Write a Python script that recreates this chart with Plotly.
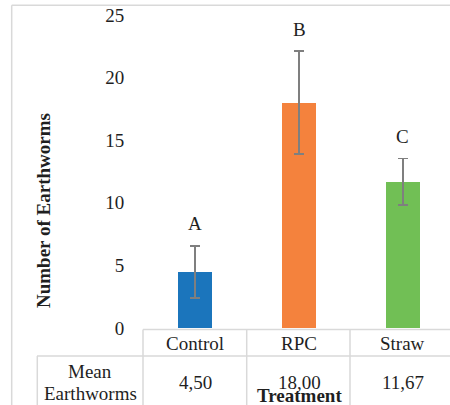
import plotly.graph_objects as go

# Earthworm counts per treatment
treatments = ["Control", "RPC", "Straw"]
mean_worms = [4.50, 18.00, 11.67]
error_worms = [2.08, 4.12, 1.87]
group_letters = ["A", "B", "C"]
bar_colors = ["#1B75BC", "#F4823D", "#71BF55"]
y_ticks = [0, 5, 10, 15, 20, 25]

FONT = "Liberation Serif, Times New Roman, serif"
TXT = "#1f1f1f"
LINE = "#d9d9d9"

W, H = 450, 405
ML, MR, MT, MB = 143, 0, 15, 77
PW, PH = W - ML - MR, H - MT - MB


def px_x(p):
    return (p - ML) / PW


def px_y(p):
    return (H - MB - p) / PH


xs = list(range(len(treatments)))

fig = go.Figure()
fig.add_trace(go.Bar(
    x=xs,
    y=mean_worms,
    width=0.32,
    marker=dict(color=bar_colors, line=dict(width=0)),
    error_y=dict(type="data", array=error_worms, visible=True,
                 color="#7f7f7f", thickness=1.8, width=5),
    showlegend=False,
    hoverinfo="skip",
))

annotations = []
# significance letters above the error bars
for i, (m, e, lab) in enumerate(zip(mean_worms, error_worms, group_letters)):
    annotations.append(dict(x=i, y=m + e, xref="x", yref="y", text=lab,
                            showarrow=False, xanchor="center",
                            yanchor="middle", yshift=22,
                            font=dict(family=FONT, size=19, color=TXT)))

# data table under the plot: category row and value row
for i, (t, m) in enumerate(zip(treatments, mean_worms)):
    annotations.append(dict(x=i, y=px_y(343), xref="x", yref="paper", text=t,
                            showarrow=False, xanchor="center",
                            yanchor="middle",
                            font=dict(family=FONT, size=19, color=TXT)))
    annotations.append(dict(x=i, y=px_y(382), xref="x", yref="paper",
                            text=f"{m:.2f}".replace(".", ","),
                            showarrow=False, xanchor="center",
                            yanchor="middle",
                            font=dict(family=FONT, size=19, color=TXT)))

annotations.append(dict(x=px_x(90), y=px_y(371), xref="paper", yref="paper",
                        text="Mean", showarrow=False, xanchor="center",
                        yanchor="middle",
                        font=dict(family=FONT, size=19, color=TXT)))
annotations.append(dict(x=px_x(90), y=px_y(393), xref="paper", yref="paper",
                        text="Earthworms", showarrow=False, xanchor="center",
                        yanchor="middle",
                        font=dict(family=FONT, size=19, color=TXT)))

# axis titles
annotations.append(dict(x=1, y=px_y(395), xref="x", yref="paper",
                        text="<b>Treatment</b>", showarrow=False,
                        xanchor="center", yanchor="middle",
                        font=dict(family=FONT, size=19, color=TXT)))
annotations.append(dict(x=px_x(44), y=px_y(211), xref="paper", yref="paper",
                        text="<b>Number of Earthworms</b>", textangle=-90,
                        showarrow=False, xanchor="center", yanchor="middle",
                        font=dict(family=FONT, size=19, color=TXT)))

shapes = []


def hline(y, x0, x1):
    shapes.append(dict(type="line", xref="paper", yref="paper",
                       x0=px_x(x0), x1=px_x(x1), y0=px_y(y), y1=px_y(y),
                       line=dict(color=LINE, width=1.5)))


def vline(x, y0, y1):
    shapes.append(dict(type="line", xref="paper", yref="paper",
                       x0=px_x(x), x1=px_x(x), y0=px_y(y0), y1=px_y(y1),
                       line=dict(color=LINE, width=1.5)))


# chart frame
hline(5.3, 11.7, 460)
vline(11.7, 5.3, 420)
# table grid
hline(329.5, 143, 460)
hline(356, 37, 460)
vline(143, 329.5, 420)
vline(246.7, 329.5, 420)
vline(350, 329.5, 420)
vline(37.3, 356, 420)

fig.update_layout(
    width=W, height=H,
    margin=dict(l=ML, r=MR, t=MT, b=MB, pad=0),
    paper_bgcolor="white", plot_bgcolor="white",
    font=dict(family=FONT, size=19, color=TXT),
    xaxis=dict(range=[-0.5, 2.452], showticklabels=False, showgrid=False,
               zeroline=False, showline=False, ticks=""),
    yaxis=dict(range=[0, 25], tickvals=y_ticks, showgrid=False,
               zeroline=False, showline=False, ticks="outside", ticklen=14,
               tickcolor="rgba(0,0,0,0)",
               tickfont=dict(family=FONT, size=19, color=TXT)),
    annotations=annotations,
    shapes=shapes,
    bargap=0,
)

fig.write_html("out.html")
